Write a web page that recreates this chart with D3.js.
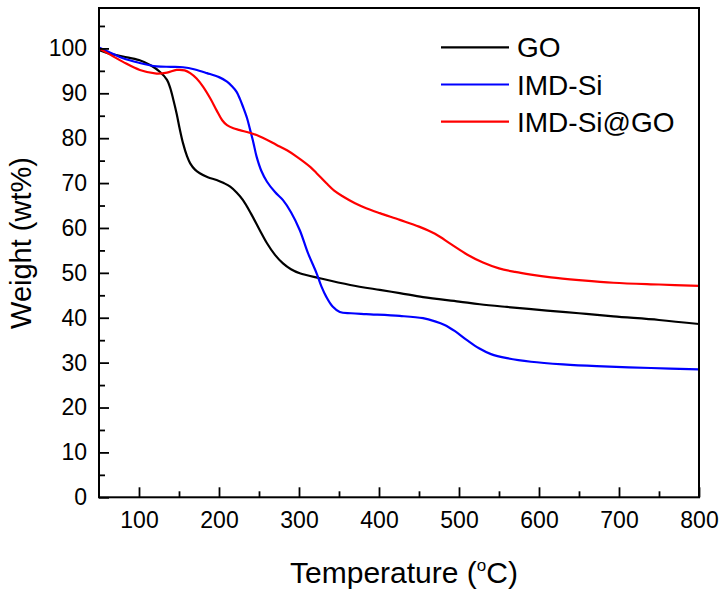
<!DOCTYPE html>
<html>
<head>
<meta charset="utf-8">
<script src="https://cdn.jsdelivr.net/npm/d3@7/dist/d3.min.js"></script>
<style>
  html, body { margin: 0; padding: 0; background: #fff; }
  svg { display: block; font-family: "Liberation Sans", Arial, sans-serif; }
</style>
</head>
<body>
<svg id="chart" width="723" height="593"></svg>
<script>
// ---- Data ----
const seriesNames = ["GO", "IMD-Si", "IMD-Si@GO"];
const seriesColors = ["#000000", "#0000ff", "#ff0000"];

const goTemp = [50,60,80,100,115,126,135,139,143,147,151,155,160,164,170,176,186,197,206,214,222,230,240,251,260,270,280,290,301,326,364,401,426,455,500,526,560,610,650,693,750,800];
const goWeight = [99.6,99,98.2,97.4,96.2,94.8,93,91.2,88.5,85.5,82,78.9,76,74.4,73,72.2,71.3,70.7,70,69.2,67.9,66.2,63.2,59.5,56.6,54,52.1,50.8,49.9,48.8,47.3,46.2,45.5,44.6,43.6,43,42.4,41.6,41,40.3,39.5,38.6];

const imdTemp = [50,65,80,100,122,140,155,170,185,200,210,216,222,226,230,235,239,243,247,253,260,270,280,290,301,311,322,328,334,342,351,365,384,426,455,470,482,495,510,525,540,560,590,630,672,740,800];
const imdWeight = [100.2,99,97.8,96.8,96,95.9,95.8,95.3,94.5,93.6,92.6,91.6,90.3,88.8,87,84.5,81.8,79,75.9,72.7,70.3,68,66.2,63.5,59.5,54.5,49.9,47,44.7,42.5,41.3,41,40.8,40.4,39.9,39.2,38.4,37,35,33.2,31.9,31,30.2,29.6,29.2,28.8,28.5];

const imdGoTemp = [50,65,80,101,122,135,147,157,164,172,180,189,197,204,210,218,226,247,272,285,297,314,322,334,344,355,370,384,401,426,450,470,490,510,530,550,570,590,615,650,693,750,800];
const imdGoWeight = [100,98.5,97,95.2,94.4,94.6,95.2,95.1,94.5,93.3,91.5,88.9,86.2,84,82.9,82.2,81.8,80.7,78.5,77.3,75.9,73.6,72.2,70,68.3,67,65.5,64.4,63.3,61.8,60.3,58.7,56.4,54.1,52.3,51,50.2,49.6,49,48.4,47.8,47.4,47.1];

const xTicks = [100,200,300,400,500,600,700,800];
const xMinorTicks = [150,250,350,450,550,650,750];
const yTicks = [0,10,20,30,40,50,60,70,80,90,100];
const yMinorTicks = [5,15,25,35,45,55,65,75,85,95,105];

const yLabel = "Weight (wt%)";

// ---- Layout ----
const svg = d3.select("#chart");
const L = 99, R = 699, T = 8, B = 497.3;

const x = d3.scaleLinear().domain([50, 800]).range([L, R]);
const y = d3.scaleLinear().domain([0, 109]).range([B, T]);

const series = [
  { name: seriesNames[0], color: seriesColors[0], t: goTemp, w: goWeight },
  { name: seriesNames[1], color: seriesColors[1], t: imdTemp, w: imdWeight },
  { name: seriesNames[2], color: seriesColors[2], t: imdGoTemp, w: imdGoWeight }
];

svg.append("defs").append("clipPath").attr("id", "clip")
  .append("rect").attr("x", L).attr("y", T).attr("width", R - L).attr("height", B - T);

const line = d3.line()
  .x(d => x(d[0]))
  .y(d => y(d[1]))
  .curve(d3.curveCatmullRom.alpha(0.5));

const plot = svg.append("g").attr("clip-path", "url(#clip)");
series.forEach(s => {
  plot.append("path")
    .datum(s.t.map((t, i) => [t, s.w[i]]))
    .attr("fill", "none")
    .attr("stroke", s.color)
    .attr("stroke-width", 2.2)
    .attr("stroke-linejoin", "round")
    .attr("d", line);
});

const tickFont = "23px";
const xAxis = svg.append("g").attr("transform", `translate(0,${B})`)
  .call(d3.axisBottom(x).tickValues(xTicks).tickSizeInner(-10).tickSizeOuter(0).tickPadding(14));
const xMinor = svg.append("g").attr("transform", `translate(0,${B})`)
  .call(d3.axisBottom(x).tickValues(xMinorTicks).tickSizeInner(-6).tickSizeOuter(0).tickFormat(""));
const yAxis = svg.append("g").attr("transform", `translate(${L},0)`)
  .call(d3.axisLeft(y).tickValues(yTicks).tickSizeInner(-10).tickSizeOuter(0).tickPadding(12));
const yMinor = svg.append("g").attr("transform", `translate(${L},0)`)
  .call(d3.axisLeft(y).tickValues(yMinorTicks).tickSizeInner(-6).tickSizeOuter(0).tickFormat(""));

[xAxis, xMinor, yAxis, yMinor].forEach(g => {
  g.select(".domain").remove();
  g.selectAll(".tick line").attr("stroke", "#000").attr("stroke-width", 1.8);
  g.selectAll(".tick text").attr("fill", "#000")
    .style("font-size", tickFont)
    .style("font-family", "'Liberation Sans', Arial, sans-serif");
});

svg.append("rect")
  .attr("x", L).attr("y", T).attr("width", R - L).attr("height", B - T)
  .attr("fill", "none").attr("stroke", "#000").attr("stroke-width", 2);

const xt = svg.append("text")
  .attr("x", (L + R) / 2 + 5).attr("y", 583)
  .attr("text-anchor", "middle")
  .style("font-size", "30px").attr("fill", "#000");
xt.append("tspan").text("Temperature (");
xt.append("tspan").text("o").style("font-size", "17px").attr("dy", "-12");
xt.append("tspan").text("C)").attr("dy", "12");

svg.append("text")
  .attr("transform", `translate(31,243) rotate(-90)`)
  .attr("text-anchor", "middle")
  .style("font-size", "29px").attr("fill", "#000")
  .text(yLabel);

const legend = svg.append("g");
series.forEach((s, i) => {
  const ly = 47.3 + i * 37.2;
  legend.append("line")
    .attr("x1", 441).attr("x2", 509).attr("y1", ly).attr("y2", ly)
    .attr("stroke", s.color).attr("stroke-width", 2.2);
  legend.append("text")
    .attr("x", 517).attr("y", ly + 10)
    .style("font-size", "28px").attr("fill", "#000")
    .text(s.name);
});
</script>
</body>
</html>
